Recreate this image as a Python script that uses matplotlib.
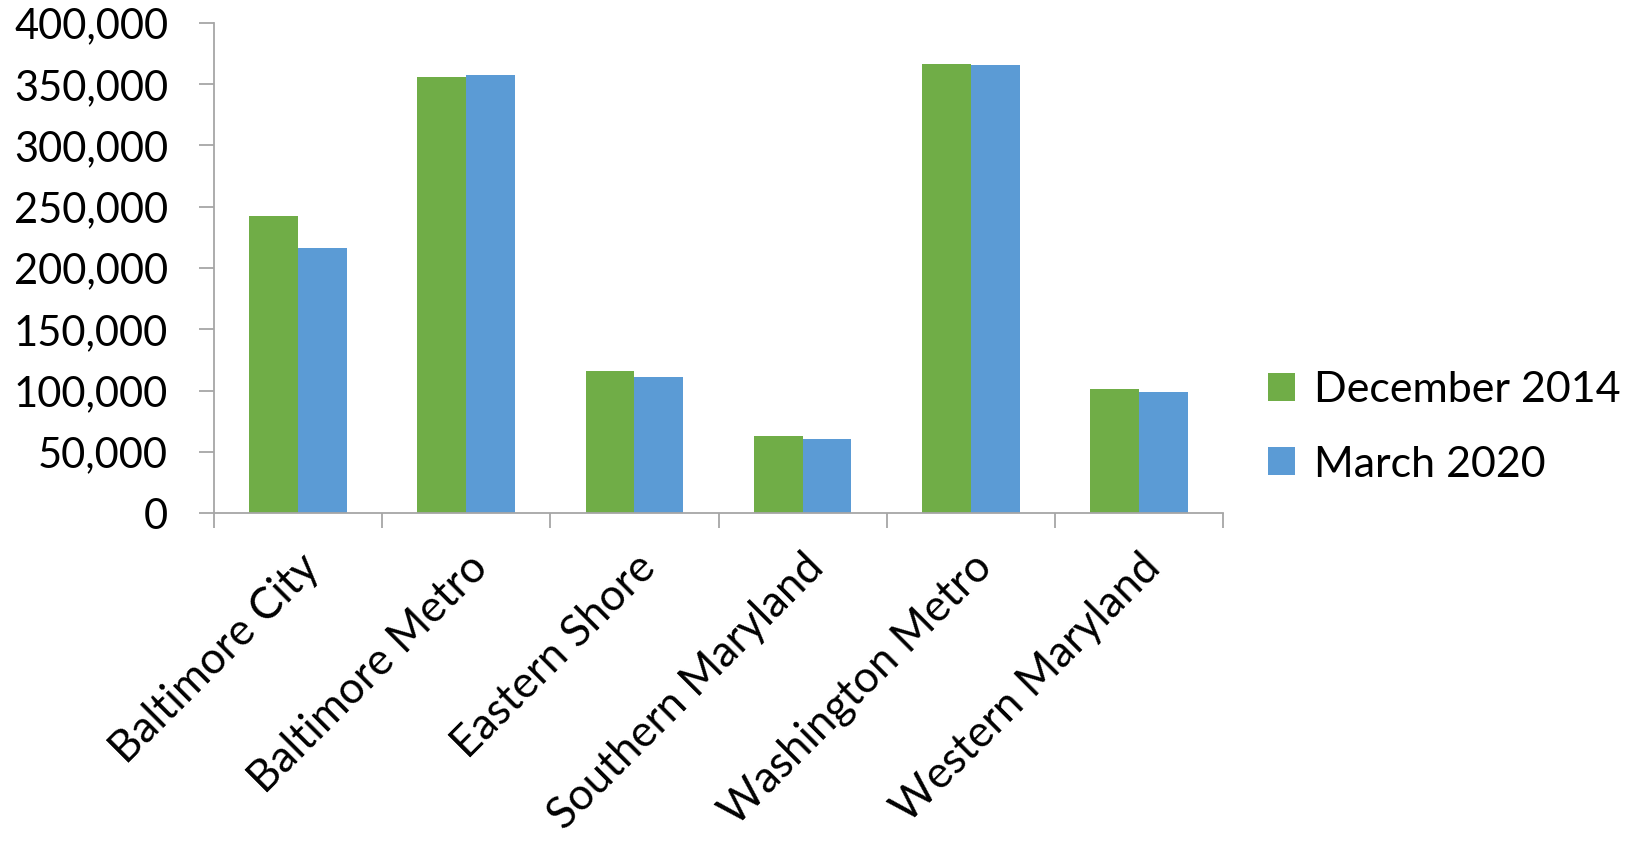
import numpy as np
import matplotlib.pyplot as plt
import matplotlib.transforms as mtransforms

categories = ['Baltimore City', 'Baltimore Metro', 'Eastern Shore',
              'Southern Maryland', 'Washington Metro', 'Western Maryland']
dec_2014 = [242800, 356100, 116200, 63100, 366700, 101500]
mar_2020 = [216200, 357800, 111300, 60100, 365700, 98900]
series_names = ['December 2014', 'March 2020']
yticks = [0, 50000, 100000, 150000, 200000, 250000, 300000, 350000, 400000]

plt.rcParams['font.family'] = ['Lato', 'DejaVu Sans']

fig = plt.figure(figsize=(16.41, 8.42), dpi=100)
ax = fig.add_axes([0.1304, 0.3907, 0.6149, 0.582])

x = np.arange(len(categories))
w = 0.29
ax.bar(x - w / 2, dec_2014, w, color='#70AD47', label=series_names[0])
ax.bar(x + w / 2, mar_2020, w, color='#5B9BD5', label=series_names[1])

ax.set_xlim(-0.5, len(categories) - 0.5)
ax.set_ylim(0, 400000)
ax.set_yticks(yticks)
ax.set_yticklabels([f'{v:,}' for v in yticks])

ax.set_xticks(x)
ax.set_xticklabels(categories, rotation=45, ha='right', va='top',
                   rotation_mode='anchor')
ax.set_xticks(np.arange(len(categories) + 1) - 0.5, minor=True)

# nudge the rotated labels a little left
offset = mtransforms.ScaledTranslation(-14 / 100, -4 / 100, fig.dpi_scale_trans)
for lab in ax.get_xticklabels():
    lab.set_transform(lab.get_transform() + offset)

for s in ['top', 'right']:
    ax.spines[s].set_visible(False)
for s in ['left', 'bottom']:
    ax.spines[s].set_color('#A6A6A6')
    ax.spines[s].set_linewidth(1.3)

ax.tick_params(axis='y', length=11, width=1.3, color='#A6A6A6',
               labelsize=30, pad=22)
ax.tick_params(axis='x', which='major', length=0, labelsize=31.5, pad=24)
ax.tick_params(axis='x', which='minor', length=11, width=1.3,
               color='#A6A6A6')

ax.legend(loc='center left', bbox_to_anchor=(1.006, 0.175), frameon=False,
          fontsize=31, handlelength=0.62, handleheight=0.62,
          handletextpad=0.45, labelspacing=0.85)

fig.savefig('out.png', dpi=100)
